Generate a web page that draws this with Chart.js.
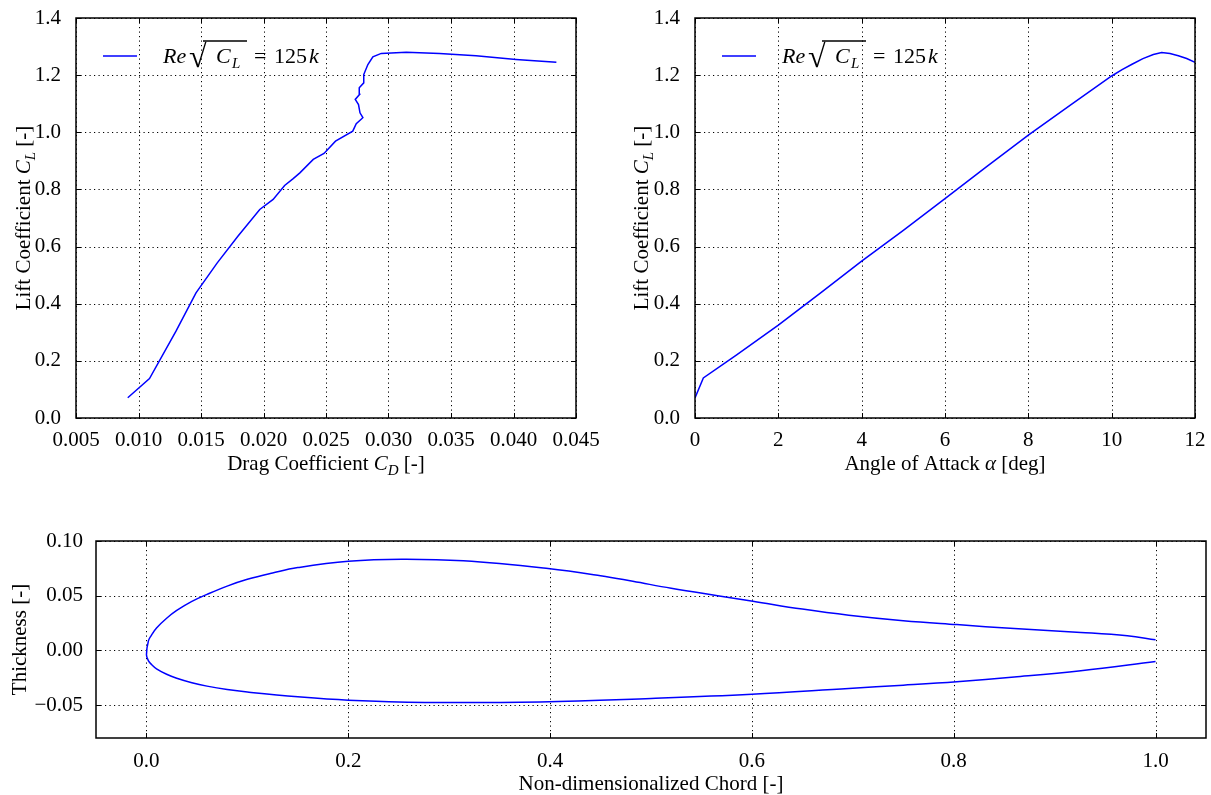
<!DOCTYPE html>
<html>
<head>
<meta charset="utf-8">
<script src="https://cdn.jsdelivr.net/npm/chart.js@4.4.1/dist/chart.umd.min.js"></script>
<style>
  html, body { margin: 0; padding: 0; background: #fff; }
  #wrap { position: relative; width: 1211px; height: 795px; overflow: hidden; }
  canvas { position: absolute; }
</style>
</head>
<body>
<div id="wrap">
  <canvas id="chartPolar" width="600" height="480" style="left:0;top:0;width:600px;height:480px"></canvas>
  <canvas id="chartAlpha" width="611" height="480" style="left:600px;top:0;width:611px;height:480px"></canvas>
  <canvas id="chartFoil" width="1211" height="315" style="left:0;top:480px;width:1211px;height:315px"></canvas>
</div>
<script>
// --------------------
// DATA
// --------------------
const cdTicks    = [0.005, 0.010, 0.015, 0.020, 0.025, 0.030, 0.035, 0.040, 0.045];
const clTicks    = [0.0, 0.2, 0.4, 0.6, 0.8, 1.0, 1.2, 1.4];
const alphaTicks = [0, 2, 4, 6, 8, 10, 12];
const chordTicks = [0.0, 0.2, 0.4, 0.6, 0.8, 1.0];
const thickTicks = [-0.05, 0.0, 0.05, 0.10];

// drag polar: CD / CL
const polarCd = [0.00914, 0.01088, 0.01300, 0.01460, 0.01630, 0.01795, 0.01970, 0.02077, 0.02169, 0.02235,
                 0.02291, 0.02398, 0.02484, 0.02576, 0.02714, 0.02742, 0.02795, 0.02772, 0.02760, 0.02734,
                 0.02768, 0.02766, 0.02802, 0.02802, 0.02835, 0.02875, 0.02942, 0.03142, 0.03408, 0.03700,
                 0.04020, 0.04343];
const polarCl = [0.071, 0.138, 0.304, 0.438, 0.543, 0.636, 0.730, 0.765, 0.814, 0.837,
                 0.858, 0.905, 0.926, 0.969, 1.004, 1.030, 1.051, 1.068, 1.097, 1.115,
                 1.132, 1.156, 1.173, 1.202, 1.237, 1.264, 1.276, 1.280, 1.276, 1.268,
                 1.255, 1.245];

// lift curve: alpha [deg] / CL
const alphaDeg = [0, 0.2, 1, 2, 3, 4, 5, 6, 7, 8, 9, 10, 10.25, 10.5, 10.75, 11, 11.2, 11.4, 11.6, 11.8, 12];
const alphaCl  = [0.070, 0.140, 0.221, 0.325, 0.436, 0.549, 0.657, 0.768, 0.880, 0.990, 1.094, 1.197,
                  1.219, 1.239, 1.258, 1.272, 1.279, 1.276, 1.268, 1.258, 1.245];

// airfoil outline: upper surface TE -> LE, lower surface LE -> TE
const upperX = [1.0, 0.972, 0.926, 0.860, 0.803, 0.750, 0.696, 0.650, 0.601, 0.566, 0.520, 0.482, 0.450, 0.398, 0.314,
                0.253, 0.200, 0.150, 0.125, 0.100, 0.080, 0.060, 0.045, 0.030, 0.020, 0.010, 0.005, 0.002];
const upperY = [0.0098, 0.0134, 0.0165, 0.0200, 0.0236, 0.0272, 0.0322, 0.0378, 0.0450, 0.0500, 0.0568, 0.0632, 0.0683, 0.0748, 0.0819,
                0.0834, 0.0815, 0.0757, 0.0708, 0.0650, 0.0588, 0.0512, 0.0448, 0.0365, 0.0294, 0.0205, 0.0140, 0.0090];
const lowerX = [0.0, 0.002, 0.005, 0.010, 0.020, 0.030, 0.045, 0.060, 0.080, 0.100, 0.150, 0.200, 0.276, 0.390,
                0.500, 0.600, 0.696, 0.750, 0.803, 0.860, 0.926, 1.0];
const lowerY = [-0.004, -0.0095, -0.0128, -0.0168, -0.0218, -0.0254, -0.0295, -0.0326, -0.0357, -0.0380, -0.0424, -0.0455, -0.0475, -0.0470,
                -0.0438, -0.0400, -0.0347, -0.0318, -0.0286, -0.0243, -0.0185, -0.0100];

// --------------------
// HELPERS
// --------------------
const SERIF = '"Liberation Serif", "DejaVu Serif", serif';
const BLUE = '#0000ff';

function pts(xs, ys){ return xs.map((x, i) => ({x: x, y: ys[i]})); }

function fontFor(p, size){
  const s = p.sub ? Math.round(size * 0.7) : size;
  return (p.it ? 'italic ' : '') + s + 'px ' + SERIF;
}
function richWidth(ctx, parts, size){
  let w = 0;
  parts.forEach(p => { ctx.font = fontFor(p, size); w += ctx.measureText(p.t).width; });
  return w;
}
function drawRich(ctx, parts, x, y, size){
  parts.forEach(p => {
    ctx.font = fontFor(p, size);
    ctx.fillText(p.t, x, y + (p.sub ? size * 0.25 : 0));
    x += ctx.measureText(p.t).width;
  });
}

function linAxis(min, max, tickVals, fmt, fixedSize, pad){
  return {
    type: 'linear', min: min, max: max,
    grid: {display: false}, border: {display: false},
    ticks: {color: '#000', font: {family: SERIF, size: 21}, padding: pad,
            maxRotation: 0, autoSkip: false, callback: v => fmt(v)},
    afterBuildTicks: s => { s.ticks = tickVals.map(v => ({value: v})); },
    afterFit: s => {
      if (s.isHorizontal()) s.height = fixedSize; else s.width = fixedSize;
      s.paddingLeft = s.paddingRight = s.paddingTop = s.paddingBottom = 0;
    }
  };
}

const fmt3 = v => v.toFixed(3);
const fmt1 = v => v.toFixed(1);
const fmtInt = v => String(v);
const fmtThick = v => (v < 0 ? '\u2212' : '') + Math.abs(v).toFixed(2);

// grid, frame, inward ticks, titles and legend
const deco = {
  id: 'deco',
  beforeDatasetsDraw(chart){
    const {ctx, chartArea: a, scales: {x, y}} = chart;
    ctx.save();
    ctx.strokeStyle = '#000';
    ctx.lineWidth = 1;
    ctx.setLineDash([1.2, 3.3]);
    ctx.beginPath();
    x.ticks.forEach(t => { const px = Math.round(x.getPixelForValue(t.value)) + 0.5; ctx.moveTo(px, a.top); ctx.lineTo(px, a.bottom); });
    y.ticks.forEach(t => { const py = Math.round(y.getPixelForValue(t.value)) + 0.5; ctx.moveTo(a.left, py); ctx.lineTo(a.right, py); });
    ctx.stroke();
    ctx.restore();
  },
  afterDatasetsDraw(chart){
    const {ctx, chartArea: a, scales: {x, y}} = chart;
    ctx.save();
    ctx.strokeStyle = '#000';
    ctx.lineWidth = 1.5;
    ctx.strokeRect(a.left, a.top, a.right - a.left, a.bottom - a.top);
    ctx.lineWidth = 1;
    ctx.beginPath();
    const L = 5;
    x.ticks.forEach(t => {
      const px = Math.round(x.getPixelForValue(t.value)) + 0.5;
      ctx.moveTo(px, a.bottom); ctx.lineTo(px, a.bottom - L);
      ctx.moveTo(px, a.top); ctx.lineTo(px, a.top + L);
    });
    y.ticks.forEach(t => {
      const py = Math.round(y.getPixelForValue(t.value)) + 0.5;
      ctx.moveTo(a.left, py); ctx.lineTo(a.left + L, py);
      ctx.moveTo(a.right, py); ctx.lineTo(a.right - L, py);
    });
    ctx.stroke();
    ctx.restore();
  },
  afterDraw(chart, args, o){
    const {ctx, chartArea: a} = chart;
    const size = 21;
    ctx.save();
    ctx.fillStyle = '#000';
    ctx.textBaseline = 'alphabetic';
    // x title
    const xw = richWidth(ctx, o.xTitle, size);
    drawRich(ctx, o.xTitle, (a.left + a.right) / 2 - xw / 2, o.xTitleY + size * 0.33, size);
    // y title (rotated)
    const yw = richWidth(ctx, o.yTitle, size);
    ctx.save();
    ctx.translate(o.yTitleX, (a.top + a.bottom) / 2);
    ctx.rotate(-Math.PI / 2);
    drawRich(ctx, o.yTitle, -yw / 2, size * 0.33, size);
    ctx.restore();
    // legend
    if (o.legend){
      const ly = a.top + 38;
      ctx.strokeStyle = BLUE;
      ctx.lineWidth = 1.5;
      ctx.beginPath();
      ctx.moveTo(a.left + 27, ly); ctx.lineTo(a.left + 61, ly);
      ctx.stroke();
      const x0 = a.left + 87, by = a.top + 45, fs = 22;
      ctx.font = 'italic ' + fs + 'px ' + SERIF;
      ctx.fillText('Re', x0, by);
      ctx.font = '32px ' + SERIF;
      ctx.fillText('\u221A', x0 + 26, by + 4);
      ctx.font = 'italic ' + fs + 'px ' + SERIF;
      ctx.fillText('C', x0 + 53, by);
      ctx.font = 'italic 15px ' + SERIF;
      ctx.fillText('L', x0 + 69, by + 5);
      ctx.strokeStyle = '#000';
      ctx.lineWidth = 1.5;
      ctx.beginPath();
      ctx.moveTo(x0 + 40, a.top + 23); ctx.lineTo(x0 + 84, a.top + 23);
      ctx.stroke();
      ctx.font = fs + 'px ' + SERIF;
      ctx.fillText('=', x0 + 91, by);
      ctx.fillText('125', x0 + 111, by);
      ctx.font = 'italic ' + fs + 'px ' + SERIF;
      ctx.fillText('k', x0 + 146, by);
    }
    ctx.restore();
  }
};

function makeChart(id, data, tension, xAxis, yAxis, padding, decoOpts){
  return new Chart(document.getElementById(id), {
    type: 'scatter',
    data: {datasets: [{
      data: data, showLine: true, borderColor: BLUE, borderWidth: 1.5,
      pointRadius: 0, tension: tension, fill: false
    }]},
    options: {
      responsive: false, animation: false, devicePixelRatio: 1,
      layout: {padding: padding},
      scales: {x: xAxis, y: yAxis},
      plugins: {legend: {display: false}, tooltip: {enabled: false}, deco: decoOpts}
    },
    plugins: [deco]
  });
}

// --------------------
// CHARTS
// --------------------
makeChart('chartPolar', pts(polarCd, polarCl), 0,
  linAxis(0.005, 0.045, cdTicks, fmt3, 62, 2),
  linAxis(0, 1.4, clTicks, fmt1, 76, 7),
  {left: 0, top: 18, right: 24, bottom: 0},
  {xTitle: [{t: 'Drag Coefficient '}, {t: 'C', it: 1}, {t: 'D', it: 1, sub: 1}, {t: ' [-]'}],
   yTitle: [{t: 'Lift Coefficient '}, {t: 'C', it: 1}, {t: 'L', it: 1, sub: 1}, {t: ' [-]'}],
   xTitleY: 463, yTitleX: 23, legend: true});

makeChart('chartAlpha', pts(alphaDeg, alphaCl), 0,
  linAxis(0, 12, alphaTicks, fmtInt, 62, 2),
  linAxis(0, 1.4, clTicks, fmt1, 95, 7),
  {left: 0, top: 18, right: 16, bottom: 0},
  {xTitle: [{t: 'Angle of Attack '}, {t: '\u03B1', it: 1}, {t: ' [deg]'}],
   yTitle: [{t: 'Lift Coefficient '}, {t: 'C', it: 1}, {t: 'L', it: 1, sub: 1}, {t: ' [-]'}],
   xTitleY: 463, yTitleX: 41, legend: true});

makeChart('chartFoil', pts(upperX.concat(lowerX), upperY.concat(lowerY)), 0.4,
  linAxis(-0.05, 1.05, chordTicks, fmt1, 57, 3),
  linAxis(-0.08, 0.10, thickTicks, fmtThick, 96, 5),
  {left: 0, top: 61, right: 5, bottom: 0},
  {xTitle: [{t: 'Non-dimensionalized Chord [-]'}],
   yTitle: [{t: 'Thickness [-]'}],
   xTitleY: 303, yTitleX: 19, legend: false});
</script>
</body>
</html>
